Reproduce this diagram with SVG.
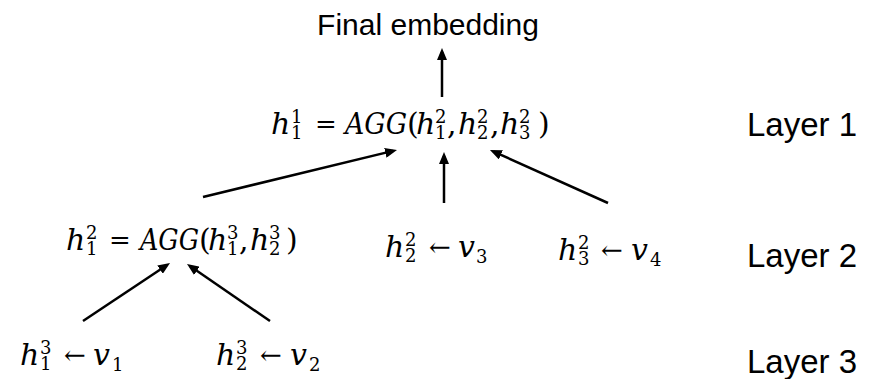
<svg xmlns="http://www.w3.org/2000/svg" width="871" height="379" viewBox="0 0 871 379">
<style>
text{fill:#000}
.lbl{font-family:"Liberation Sans",Arial,sans-serif}
.m{font-family:"DejaVu Serif","Liberation Serif",serif;font-style:italic;font-size:30px}
.r{font-family:"DejaVu Serif","Liberation Serif",serif;font-size:30px}
.s{font-family:"DejaVu Serif","Liberation Serif",serif;font-size:18px}
.eq{text-anchor:middle;font-size:26px}
.edge{stroke:#000;stroke-width:2.5;fill:none;marker-end:url(#ah)}
</style>
<defs>
<marker id="ah" markerUnits="userSpaceOnUse" markerWidth="12" markerHeight="10" refX="8" refY="5" orient="auto">
<path d="M0,0 L12,5 L0,10 z" fill="#000"/>
</marker>
</defs>
<rect width="871" height="379" fill="#fff"/>

<g id="final">
<text class="lbl" x="428" y="35" font-size="30" text-anchor="middle">Final embedding</text>
</g>

<g id="n-layer1">
<text class="m" x="271" y="134">h</text>
<text class="s" x="291" y="123">1</text><text class="s" x="291" y="139">1</text>
<text class="r eq" x="326" y="133">=</text>
<text class="m" x="345" y="134" textLength="62" lengthAdjust="spacingAndGlyphs">AGG</text>
<text class="r" x="407" y="134">(</text>
<text class="m" x="416" y="134">h</text>
<text class="s" x="435" y="123">2</text><text class="s" x="435" y="139">1</text>
<text class="r" x="447" y="134">,</text>
<text class="m" x="458" y="134">h</text>
<text class="s" x="477" y="123">2</text><text class="s" x="477" y="139">2</text>
<text class="r" x="490" y="134">,</text>
<text class="m" x="500" y="134">h</text>
<text class="s" x="519" y="123">2</text><text class="s" x="519" y="139">3</text>
<text class="r" x="538" y="134">)</text>
</g>

<g id="n-h12">
<text class="m" x="66" y="250">h</text>
<text class="s" x="86" y="239">2</text><text class="s" x="86" y="255">1</text>
<text class="r eq" x="120" y="249">=</text>
<text class="m" x="140" y="250" textLength="59" lengthAdjust="spacingAndGlyphs">AGG</text>
<text class="r" x="199" y="250">(</text>
<text class="m" x="208" y="250">h</text>
<text class="s" x="227" y="239">3</text><text class="s" x="227" y="255">1</text>
<text class="r" x="239" y="250">,</text>
<text class="m" x="250" y="250">h</text>
<text class="s" x="269" y="239">3</text><text class="s" x="269" y="255">2</text>
<text class="r" x="286" y="250">)</text>
</g>

<g id="n-h22">
<text class="m" x="385" y="257">h</text>
<text class="s" x="405" y="246">2</text><text class="s" x="405" y="262">2</text>
<text class="r eq" x="440" y="256">←</text>
<text class="m" x="458" y="257">v</text>
<text class="s" x="476" y="263">3</text>
</g>

<g id="n-h32">
<text class="m" x="558" y="260">h</text>
<text class="s" x="578" y="249">2</text><text class="s" x="578" y="265">3</text>
<text class="r eq" x="612" y="259">←</text>
<text class="m" x="631" y="260">v</text>
<text class="s" x="650" y="266">4</text>
</g>

<g id="n-h13">
<text class="m" x="20" y="365">h</text>
<text class="s" x="40" y="354">3</text><text class="s" x="40" y="370">1</text>
<text class="r eq" x="75" y="364">←</text>
<text class="m" x="93" y="365">v</text>
<text class="s" x="112" y="371">1</text>
</g>

<g id="n-h23">
<text class="m" x="216" y="365">h</text>
<text class="s" x="236" y="354">3</text><text class="s" x="236" y="370">2</text>
<text class="r eq" x="271" y="364">←</text>
<text class="m" x="290" y="365">v</text>
<text class="s" x="309" y="371">2</text>
</g>

<g id="layer-labels" class="lbl" font-size="33">
<text x="747" y="136">Layer 1</text>
<text x="747" y="267">Layer 2</text>
<text x="747" y="373">Layer 3</text>
</g>

<g id="connectors">
<line class="edge" x1="442" y1="97" x2="442" y2="52"/>
<line class="edge" x1="203" y1="197" x2="393.1" y2="150.9"/>
<line class="edge" x1="444" y1="203" x2="444" y2="156"/>
<line class="edge" x1="608" y1="203" x2="493.6" y2="151.6"/>
<line class="edge" x1="83" y1="321" x2="166.7" y2="265.2"/>
<line class="edge" x1="270" y1="321" x2="190.3" y2="266.3"/>
</g>
</svg>
